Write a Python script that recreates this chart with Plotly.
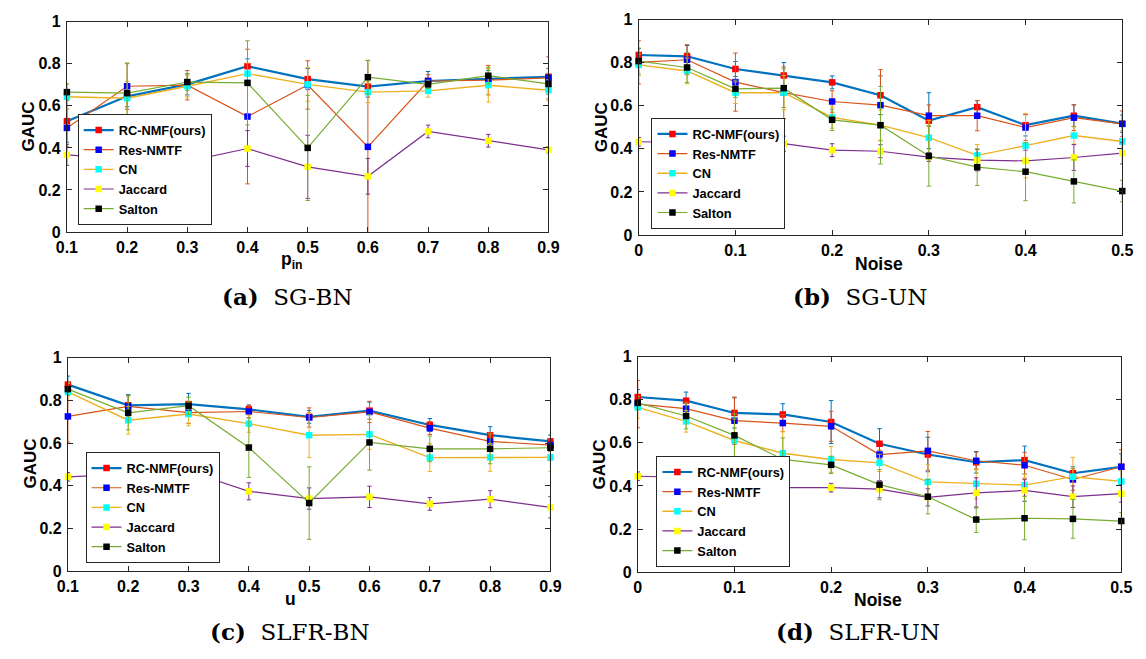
import plotly.graph_objects as go

# ---------------- data ----------------
series_names = ["RC-NMF(ours)", "Res-NMTF", "CN", "Jaccard", "Salton"]

# (a) SG-BN
a_x = [0.1, 0.2, 0.3, 0.4, 0.5, 0.6, 0.7, 0.8, 0.9]
a_rc = [0.527, 0.645, 0.702, 0.788, 0.727, 0.691, 0.718, 0.729, 0.738]
a_rc_err = [0.10, 0.05, 0.05, 0.035, 0.05, 0.05, 0.045, 0.04, 0.04]
a_res = [0.495, 0.693, 0.698, 0.549, 0.699, 0.405, 0.718, 0.722, 0.733]
a_res_err = [0.09, 0.11, 0.07, 0.32, 0.115, 0.41, 0.03, 0.07, 0.10]
a_cn = [0.643, 0.636, 0.693, 0.753, 0.702, 0.665, 0.671, 0.698, 0.674]
a_cn_err = [0.06, 0.08, 0.05, 0.05, 0.08, 0.05, 0.03, 0.08, 0.05]
a_jac = [0.367, 0.345, 0.336, 0.397, 0.310, 0.265, 0.478, 0.434, 0.391]
a_jac_err = [0.05, 0.05, 0.04, 0.085, 0.15, 0.085, 0.03, 0.03, 0.015]
a_sal = [0.665, 0.660, 0.713, 0.709, 0.400, 0.736, 0.702, 0.743, 0.704]
a_sal_err = [0.04, 0.14, 0.04, 0.20, 0.25, 0.08, 0.02, 0.04, 0.05]

# (b) SG-UN
b_x = [0, 0.05, 0.1, 0.15, 0.2, 0.25, 0.3, 0.35, 0.4, 0.45, 0.5]
b_rc = [0.836, 0.830, 0.771, 0.741, 0.709, 0.649, 0.531, 0.594, 0.510, 0.554, 0.517]
b_rc_err = [0.03, 0.05, 0.035, 0.06, 0.03, 0.09, 0.13, 0.03, 0.05, 0.05, 0.04]
b_res = [0.802, 0.814, 0.710, 0.661, 0.620, 0.603, 0.554, 0.554, 0.499, 0.545, 0.516]
b_res_err = [0.10, 0.07, 0.135, 0.12, 0.05, 0.165, 0.05, 0.07, 0.06, 0.06, 0.06]
b_cn = [0.790, 0.762, 0.661, 0.661, 0.546, 0.510, 0.452, 0.370, 0.415, 0.462, 0.434]
b_cn_err = [0.05, 0.06, 0.05, 0.08, 0.05, 0.07, 0.08, 0.05, 0.15, 0.04, 0.05]
b_jac = [0.433, 0.430, 0.425, 0.424, 0.394, 0.389, 0.362, 0.348, 0.344, 0.360, 0.380]
b_jac_err = [0.02, 0.02, 0.02, 0.035, 0.03, 0.03, 0.02, 0.05, 0.05, 0.06, 0.05]
b_sal = [0.808, 0.778, 0.679, 0.682, 0.535, 0.510, 0.367, 0.315, 0.294, 0.249, 0.204]
b_sal_err = [0.06, 0.07, 0.04, 0.09, 0.05, 0.18, 0.14, 0.085, 0.135, 0.10, 0.05]

# (c) SLFR-BN
c_x = [0.1, 0.2, 0.3, 0.4, 0.5, 0.6, 0.7, 0.8, 0.9]
c_rc = [0.874, 0.777, 0.783, 0.758, 0.723, 0.752, 0.685, 0.637, 0.608]
c_rc_err = [0.04, 0.05, 0.05, 0.02, 0.03, 0.04, 0.03, 0.04, 0.03]
c_res = [0.725, 0.772, 0.743, 0.748, 0.720, 0.746, 0.670, 0.608, 0.590]
c_res_err = [0.12, 0.05, 0.05, 0.03, 0.045, 0.05, 0.03, 0.04, 0.03]
c_cn = [0.840, 0.707, 0.736, 0.691, 0.637, 0.641, 0.532, 0.533, 0.533]
c_cn_err = [0.04, 0.065, 0.055, 0.04, 0.105, 0.07, 0.065, 0.065, 0.065]
c_jac = [0.442, 0.455, 0.468, 0.374, 0.340, 0.348, 0.315, 0.337, 0.299]
c_jac_err = [0.02, 0.02, 0.02, 0.04, 0.05, 0.05, 0.03, 0.04, 0.05]
c_sal = [0.853, 0.742, 0.775, 0.579, 0.319, 0.603, 0.573, 0.573, 0.578]
c_sal_err = [0.03, 0.08, 0.04, 0.14, 0.17, 0.13, 0.06, 0.07, 0.06]

# (d) SLFR-UN
d_x = [0, 0.05, 0.1, 0.15, 0.2, 0.25, 0.3, 0.35, 0.4, 0.45, 0.5]
d_rc = [0.813, 0.796, 0.739, 0.732, 0.697, 0.596, 0.546, 0.510, 0.520, 0.459, 0.489]
d_rc_err = [0.035, 0.04, 0.07, 0.05, 0.10, 0.07, 0.08, 0.05, 0.065, 0.03, 0.06]
d_res = [0.780, 0.759, 0.703, 0.692, 0.677, 0.546, 0.563, 0.517, 0.496, 0.430, 0.489]
d_res_err = [0.11, 0.03, 0.11, 0.04, 0.07, 0.02, 0.09, 0.04, 0.06, 0.05, 0.08]
d_cn = [0.765, 0.700, 0.611, 0.552, 0.523, 0.507, 0.419, 0.410, 0.404, 0.443, 0.421]
d_cn_err = [0.05, 0.05, 0.10, 0.10, 0.06, 0.04, 0.08, 0.07, 0.05, 0.09, 0.05]
d_jac = [0.445, 0.440, 0.410, 0.392, 0.392, 0.385, 0.347, 0.368, 0.379, 0.350, 0.364]
d_jac_err = [0.02, 0.02, 0.03, 0.07, 0.02, 0.04, 0.04, 0.07, 0.05, 0.05, 0.04]
d_sal = [0.786, 0.725, 0.635, 0.523, 0.498, 0.406, 0.350, 0.244, 0.250, 0.247, 0.237]
d_sal_err = [0.03, 0.06, 0.10, 0.10, 0.04, 0.07, 0.08, 0.06, 0.10, 0.09, 0.04]

y_ticks = [0, 0.2, 0.4, 0.6, 0.8, 1]
y_ticktext = ["0", "0.2", "0.4", "0.6", "0.8", "1"]
x_ticks_bn = [0.1, 0.2, 0.3, 0.4, 0.5, 0.6, 0.7, 0.8, 0.9]
x_ticktext_bn = ["0.1", "0.2", "0.3", "0.4", "0.5", "0.6", "0.7", "0.8", "0.9"]
x_ticks_un = [0, 0.1, 0.2, 0.3, 0.4, 0.5]
x_ticktext_un = ["0", "0.1", "0.2", "0.3", "0.4", "0.5"]

# ---------------- styling ----------------
W, H = 1146, 659
line_colors = ["#0072BD", "#D95319", "#EDB120", "#7E2F8E", "#77AC30"]
marker_colors = ["#FF0000", "#0000FF", "#00FFFF", "#FFFF00", "#000000"]
line_widths = [2.2, 1.2, 1.4, 1.2, 1.2]
AX = "#262626"
SANS = "Liberation Sans, Arial, sans-serif"
SERIF = "DejaVu Serif, serif"


def px_x(p):
    return p / W


def px_y(p):
    return 1 - p / H


panels = [
    dict(x=a_x, ys=[a_rc, a_res, a_cn, a_jac, a_sal],
         es=[a_rc_err, a_res_err, a_cn_err, a_jac_err, a_sal_err],
         box=(57, 548, 14, 230), xr=[0.1, 0.9], xt=x_ticks_bn, xtt=x_ticktext_bn,
         leg=(68, 223), xlabel="p<sub>in</sub>", xl=(286, 259), gauc=(18, 122),
         cap="<b>(a)</b>&nbsp;&nbsp;SG-BN", capxy=(282, 296)),
    dict(x=b_x, ys=[b_rc, b_res, b_cn, b_jac, b_sal],
         es=[b_rc_err, b_res_err, b_cn_err, b_jac_err, b_sal_err],
         box=(640, 1133, 12, 233), xr=[0, 0.5], xt=x_ticks_un, xtt=x_ticktext_un,
         leg=(653, 227), xlabel="Noise", xl=(885, 263), gauc=(602, 122),
         cap="<b>(b)</b>&nbsp;&nbsp;SG-UN", capxy=(866, 296)),
    dict(x=c_x, ys=[c_rc, c_res, c_cn, c_jac, c_sal],
         es=[c_rc_err, c_res_err, c_cn_err, c_jac_err, c_sal_err],
         box=(58, 550, 359, 578), xr=[0.1, 0.9], xt=x_ticks_bn, xtt=x_ticktext_bn,
         leg=(76, 570), xlabel="u", xl=(285, 607), gauc=(20, 468),
         cap="<b>(c)</b>&nbsp;&nbsp;SLFR-BN", capxy=(284, 640)),
    dict(x=d_x, ys=[d_rc, d_res, d_cn, d_jac, d_sal],
         es=[d_rc_err, d_res_err, d_cn_err, d_jac_err, d_sal_err],
         box=(639, 1132, 358, 579), xr=[0, 0.5], xt=x_ticks_un, xtt=x_ticktext_un,
         leg=(658, 574), xlabel="Noise", xl=(884, 608), gauc=(600, 468),
         cap="<b>(d)</b>&nbsp;&nbsp;SLFR-UN", capxy=(864, 640)),
]

fig = go.Figure()
annotations = []
layout_axes = {}


def label(text, xy, font, angle=0):
    return dict(text=text, x=px_x(xy[0]), y=px_y(xy[1]), xref="paper", yref="paper",
                xanchor="center", yanchor="middle", showarrow=False,
                textangle=angle, font=font)


for i, p in enumerate(panels):
    k = "" if i == 0 else str(i + 1)
    legname = "legend" if i == 0 else f"legend{i + 1}"
    for j, name in enumerate(series_names):
        fig.add_trace(go.Scatter(
            x=p["x"], y=p["ys"][j], name=name, mode="lines+markers",
            xaxis="x" + k, yaxis="y" + k, legend=legname, cliponaxis=False,
            line=dict(color=line_colors[j], width=line_widths[j]),
            marker=dict(symbol="square", size=6.5, color=marker_colors[j], line=dict(width=0)),
            error_y=dict(type="data", array=p["es"][j], visible=True,
                         color=line_colors[j], thickness=1, width=2.2),
        ))
    x0, x1, y0, y1 = p["box"]
    common = dict(showline=True, linecolor=AX, linewidth=1, mirror="ticks",
                  ticks="inside", ticklen=5, tickcolor=AX, tickwidth=1,
                  showgrid=False, zeroline=False,
                  tickfont=dict(family=SANS, size=16, color="#000000", weight="bold"))
    layout_axes["xaxis" + k] = dict(domain=[px_x(x0), px_x(x1)], range=p["xr"],
                                    anchor="y" + k, tickvals=p["xt"], ticktext=p["xtt"],
                                    ticklabelstandoff=1, **common)
    layout_axes["yaxis" + k] = dict(domain=[px_y(y1), px_y(y0)], range=[0, 1],
                                    anchor="x" + k, tickvals=y_ticks, ticktext=y_ticktext,
                                    ticklabelstandoff=2, **common)
    layout_axes[legname] = dict(
        x=px_x(p["leg"][0]), y=px_y(p["leg"][1]), xanchor="left", yanchor="bottom",
        bgcolor="#FFFFFF", bordercolor=AX, borderwidth=1,
        font=dict(family=SANS, size=12.8, color="#000000", weight="bold"),
        itemwidth=30, tracegroupgap=0,
    )
    annotations.append(label("GAUC", p["gauc"],
                             dict(family=SANS, size=17, color="#000000", weight="bold"), -90))
    annotations.append(label(p["xlabel"], p["xl"],
                             dict(family=SANS, size=17.5, color="#000000", weight="bold")))
    annotations.append(label(p["cap"], p["capxy"],
                             dict(family=SERIF, size=23, color="#000000")))

fig.update_layout(
    width=W, height=H, margin=dict(l=0, r=0, t=0, b=0),
    paper_bgcolor="#FFFFFF", plot_bgcolor="#FFFFFF",
    annotations=annotations, **layout_axes,
)

fig.write_html("out.html", config={"displayModeBar": False},
               post_script="document.body.style.margin='0px';document.body.style.overflow='hidden';")
